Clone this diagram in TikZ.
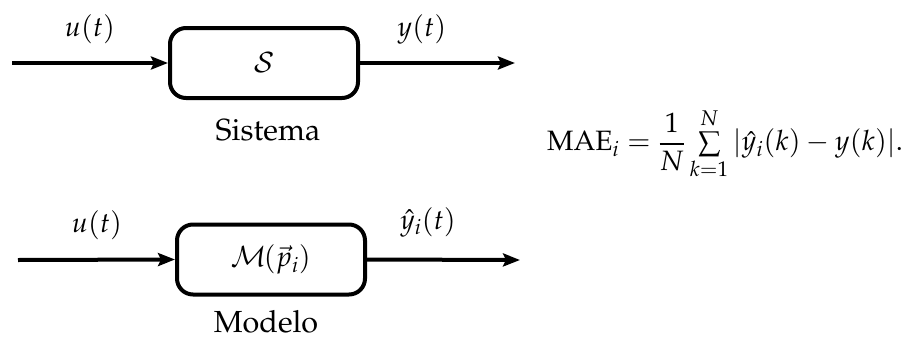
\documentclass[tikz,border=0pt]{standalone}
\usepackage{amsmath}
\usepackage[T1]{fontenc}
\usepackage{mathpazo}
\usetikzlibrary{arrows.meta}
\begin{document}
\begin{tikzpicture}[x=1pt,y=-1pt,
  blk/.style={draw,line width=4pt,rounded corners=16pt,minimum width=188pt,minimum height=70pt,inner sep=0pt},
  sig/.style={line width=4pt,-{Stealth[length=17pt,width=13pt,inset=3pt]}},
  lbl/.style={inner sep=0pt},
  boxname/.style={inner sep=0pt,font=\fontsize{30.5}{34}\selectfont},
  every node/.append style={font=\fontsize{28}{32}\selectfont}]
\useasboundingbox (0,0) rectangle (912,340);
% top row
\node[blk] (sys) at (264,63) {$\mathcal{S}$};
\coordinate (sysin) at (12,63);
\coordinate (sysout) at (515,63);
\draw[sig] (sysin) -- (sys.west);
\draw[sig] (sys.east) -- (sysout);
\node[lbl] (u1) at (90,29) {$u(t)$};
\node[lbl] (y1) at (422,29) {$y(t)$};
\node[boxname] (sn) at (268,130) {Sistema};
% bottom row
\node[blk] (mod) at (271,259.5) {$\mathcal{M}\mkern-2mu(\vec{p}_i)$};
\coordinate (modin) at (18,260);
\coordinate (modout) at (520,260);
\draw[sig] (modin) -- (mod.west);
\draw[sig] (mod.east) -- (modout);
\node[lbl] (u2) at (97,225) {$u(t)$};
\node[lbl] (y2) at (428,222) {$\hat{y}_i(t)$};
\node[boxname] (mn) at (266,322) {Modelo};
% equation
\node[lbl] (eq) at (725,144) {$\mathrm{MAE}_i = \dfrac{1}{N}\textstyle\sum\limits_{k=1}^{N}|\hat{y}_i(k)-y(k)|.$};
\end{tikzpicture}
\end{document}
